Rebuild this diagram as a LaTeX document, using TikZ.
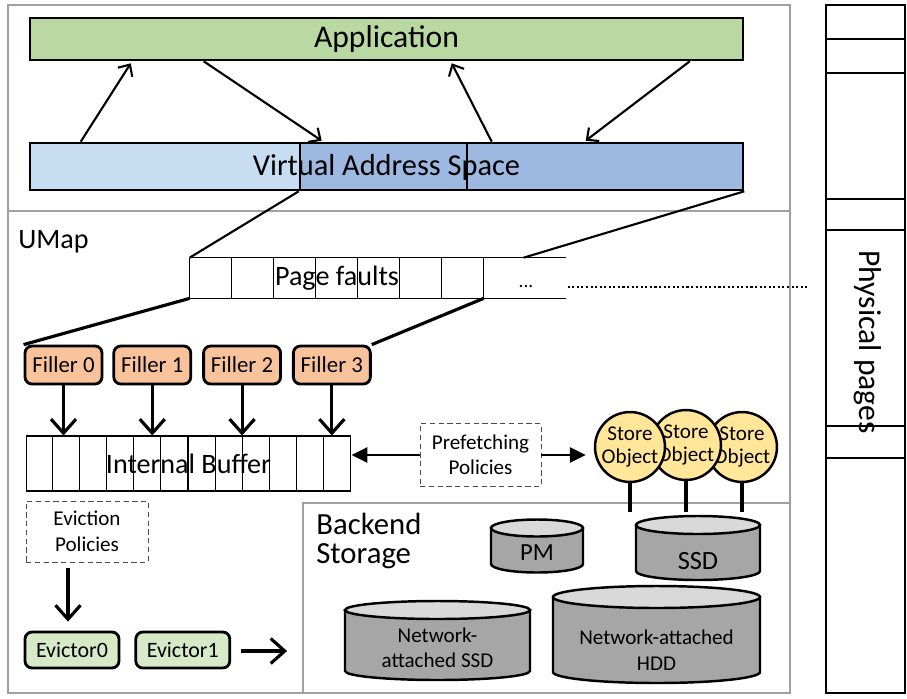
\documentclass[tikz,border=0pt]{standalone}
\usepackage{fontspec}
\setmainfont{Carlito}
\usetikzlibrary{positioning,arrows.meta,calc}
\definecolor{umgreen}{RGB}{185,216,162}
\definecolor{umlightblue}{RGB}{199,221,241}
\definecolor{umblue}{RGB}{157,185,225}
\definecolor{umorange}{RGB}{248,194,155}
\definecolor{umyellow}{RGB}{255,230,153}
\definecolor{umpale}{RGB}{214,234,200}
\definecolor{umframegray}{RGB}{160,160,160}
\definecolor{umdrumgray}{RGB}{166,166,166}
\definecolor{umdrumlight}{RGB}{217,217,217}
\tikzset{
  umbar/.style={
    rectangle,
    draw=black,
    line width=1.5pt,
    inner sep=0pt
  },
  umfiller/.style={
    rectangle,
    draw=black,
    line width=1.6pt,
    rounded corners=4pt,
    fill=umorange,
    minimum width=1.54cm,
    minimum height=0.76cm,
    inner sep=0pt,
    font=\fontsize{13}{15}\selectfont
  },
  umevictor/.style={
    umfiller,
    fill=umpale,
    minimum width=1.88cm,
    minimum height=0.72cm,
    font=\fontsize{12.5}{15}\selectfont
  },
  umpolicy/.style={
    rectangle,
    draw=black!70,
    densely dashed,
    line width=0.5pt,
    align=center,
    inner sep=0pt,
    font=\fontsize{12}{14.5}\selectfont
  },
  umstore/.style={
    circle,
    draw=black,
    line width=1.4pt,
    fill=umyellow,
    minimum size=1.32cm,
    inner sep=0pt,
    align=center,
    font=\fontsize{12}{13.6}\selectfont
  },
  umframe/.style={
    rectangle,
    draw=umframegray,
    line width=1.1pt,
    inner sep=0pt
  },
  umthin/.style={draw=black, line width=0.6pt},
  umline/.style={draw=black, line width=1.2pt},
  umthick/.style={draw=black, line width=1.8pt},
  umdotted/.style={draw=black, line width=1.2pt, dash pattern=on 1.2pt off 1.4pt},
  umarrow/.style={
    -{Straight Barb[length=1.8mm,width=3.4mm]},
    line width=1.2pt,
    draw=black
  },
  umbigarrow/.style={
    -{Straight Barb[length=2.8mm,width=5mm]},
    line width=1.8pt,
    draw=black
  },
  umsolidarrow/.style={
    -{Triangle[length=3.2mm,width=3mm]},
    line width=1.6pt,
    draw=black
  },
  umdrumbody/.style={fill=umdrumgray, draw=black, line width=1.4pt},
  umdrumtop/.style={fill=umdrumlight, draw=black, line width=1.4pt},
  umdrumtext/.style={align=center, inner sep=0pt, font=\fontsize{12}{14.5}\selectfont}
}
% cylinder: centre x, top y, bottom y, half width, y radius
\newcommand{\umdrum}[5]{%
  \filldraw[umdrumbody] (#1-#4,#2) -- (#1-#4,#3)
    arc[start angle=180, end angle=0, x radius=#4, y radius=#5] -- (#1+#4,#2) -- cycle;
  \filldraw[umdrumtop] (#1,#2) ellipse[x radius=#4, y radius=#5];
}

\begin{document}
\begin{tikzpicture}[x=0.02cm, y=-0.02cm]
  \useasboundingbox (0,0) rectangle (907,698);

  % frames
  \node[umframe, minimum width=15.64cm, minimum height=13.76cm] (frame) at (399,349) {};
  \draw[umframe] (8,211) -- (790,211);
  \node[umframe, minimum width=9.74cm, minimum height=3.8cm] (backend) at (546.5,598) {};
  \node[anchor=west, inner sep=0pt, font=\fontsize{16}{18}\selectfont] (umap) at (18,242) {UMap};
  \node[anchor=north west, align=left, inner sep=0pt, font=\fontsize{17.5}{16.5}\selectfont] (backendlabel) at (316,513) {Backend\\Storage};

  % application and address space
  \node[umbar, fill=umgreen, minimum width=14.26cm, minimum height=0.84cm, font=\fontsize{18}{20}\selectfont] (app) at (386.5,39) {Application};
  \node[umbar, fill=umlightblue, minimum width=5.4cm, minimum height=0.94cm] (vasleft) at (165,166.5) {};
  \node[umbar, fill=umblue, minimum width=3.34cm, minimum height=0.94cm] (vasmid) at (383.5,166.5) {};
  \node[umbar, fill=umblue, minimum width=5.52cm, minimum height=0.94cm] (vasright) at (605,166.5) {};
  \node[minimum width=14.26cm, minimum height=0.94cm, inner sep=0pt, font=\fontsize{17.3}{20}\selectfont] (vas) at (386.5,167.5) {Virtual Address Space};

  \draw[umarrow] ($(vasleft.north west)+(52,0)$) -- ($(app.south west)+(102,2)$);
  \draw[umarrow] ($(app.south west)+(175,0)$) -- ($(vasmid.north west)+(23,-1)$);
  \draw[umarrow] ($(vasright.north west)+(26,0)$) -- ($(app.south west)+(423,2)$);
  \draw[umarrow] ($(app.south west)+(661,0)$) -- ($(vasright.north west)+(120,-1)$);

  % page faults
  \node[minimum width=5.88cm, minimum height=0.8cm, inner sep=0pt, font=\fontsize{16}{18}\selectfont] (faults) at (337,278) {Page faults};
  \draw[umthin] (faults.north west) -- ++(376,0);
  \draw[umthin] (faults.south west) -- ++(376,0);
  \foreach \i in {0,...,7}
    \draw[umthin] ($(faults.north west)+(42*\i,0)$) -- ++(0,40);
  \node[inner sep=0pt, font=\fontsize{11}{12}\selectfont] (faultsmore) at (526,286) {...};

  \draw[umline] (vasmid.south west) -- (faults.north west);
  \draw[umline] (vasright.south east) -- ($(faults.north west)+(334,0)$);

  % fillers
  \node[umfiller] (filler0) at (63.5,365) {Filler 0};
  \node[umfiller, right=0.18cm of filler0] (filler1) {Filler 1};
  \node[umfiller, right=0.2cm of filler1] (filler2) {Filler 2};
  \node[umfiller, right=0.2cm of filler2] (filler3) {Filler 3};
  \draw[umthick] (faults.south west) -- (filler0.north west);
  \draw[umthick] ($(faults.south west)+(294,0)$) -- (filler3.north east);

  % internal buffer
  \node[draw=black, line width=0.6pt, minimum width=6.5cm, minimum height=1.1cm, inner sep=0pt, font=\fontsize{16}{18}\selectfont] (buffer) at (188.5,463.5) {Internal Buffer};
  \foreach \i in {1,...,11}
    \draw[umthin] ($(buffer.north west)+(27.08*\i,0)$) -- ++(0,55);
  \foreach \f in {0,...,3}
    \draw[umbigarrow] (filler\f.south) -- (filler\f.south |- buffer.north);

  % prefetching and store objects
  \node[umpolicy, minimum width=2.42cm, minimum height=1.26cm] (prefetch) at (480.5,455) {Prefetching\\Policies};
  \node[umstore] (store3) at (742,447) {Store\\Object};
  \node[umstore] (store2) at (686,445) {Store\\Object};
  \node[umstore] (store1) at (630,447) {Store\\Object};
  \draw[umsolidarrow] (prefetch.west) -- (prefetch.west -| buffer.east);
  \draw[umsolidarrow] (prefetch.east) -- ($(prefetch.east -| store1.west)+(-8,0)$);
  \coordinate (ssdtop) at (698,512);
  \foreach \s in {1,2,3}
    \draw[umthick] (store\s.south) -- (store\s.south |- ssdtop);

  % backend storage
  \umdrum{537}{528}{564}{46}{8.5}
  \node[umdrumtext, font=\fontsize{14}{16}\selectfont] (pm) at (537,553) {PM};
  \umdrum{698}{525}{571}{62}{9}
  \node[umdrumtext, font=\fontsize{15}{16}\selectfont] (ssd) at (698,561) {SSD};
  \umdrum{437.5}{610}{671}{92.5}{9}
  \node[umdrumtext] (netssd) at (437.5,648) {Network-\\attached SSD};
  \umdrum{656.5}{597}{672}{103.5}{11}
  \node[umdrumtext] (nethdd) at (656.5,650) {Network-attached\\HDD};

  % eviction
  \node[umpolicy, minimum width=2.44cm, minimum height=1.22cm] (eviction) at (87,531.5) {Eviction\\Policies};
  \node[umevictor] (evictor0) at (72,650) {Evictor0};
  \node[umevictor, right=0.28cm of evictor0] (evictor1) {Evictor1};
  \draw[umbigarrow] ($(eviction.south)+(-19,6)$) -- ($(evictor0.north)+(-4,-9)$);
  \draw[umbigarrow] ($(evictor1.east)+(10,1)$) -- ($(evictor1.east -| backend.west)+(-15,1)$);

  % physical pages
  \node[draw=black, line width=1.5pt, minimum width=1.58cm, minimum height=13.76cm, inner sep=0pt] (phys) at (865.5,349) {};
  \foreach \y in {40,74,200,231,427,459}
    \draw[umline] ($(phys.north west)+(0,\y-5)$) -- ++(79,0);
  \node[rotate=-90, inner sep=0pt, font=\fontsize{18}{20}\selectfont] (physlabel) at (868,342) {Physical pages};
  \draw[umdotted] ($(faultsmore.base east)+(34,0)$) -- ($(phys.west |- faultsmore.base)+(-16,0)$);
\end{tikzpicture}
\end{document}
